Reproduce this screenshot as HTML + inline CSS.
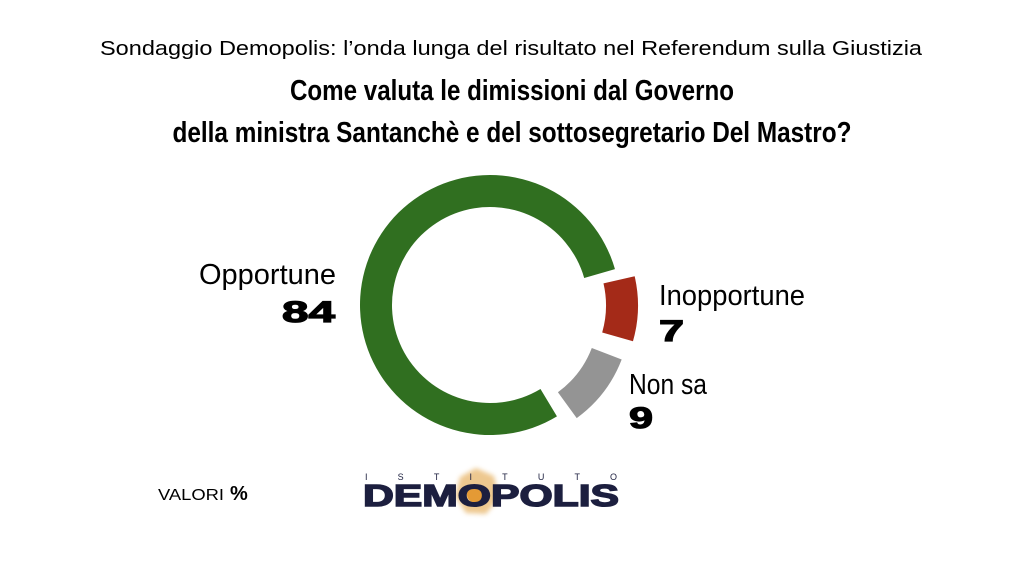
<!DOCTYPE html>
<html><head><meta charset="utf-8"><style>html,body{margin:0;padding:0;background:#fff}svg{display:block}</style></head>
<body>
<svg id="s" width="1024" height="576" viewBox="0 0 1024 576" xmlns="http://www.w3.org/2000/svg" font-family="Liberation Sans, sans-serif">
<rect width="1024" height="576" fill="#fff"/>
<text x="511" y="55" text-anchor="middle" font-size="20" textLength="822" lengthAdjust="spacingAndGlyphs" fill="#000">Sondaggio Demopolis: l’onda lunga del risultato nel Referendum sulla Giustizia</text>
<text x="512" y="100" text-anchor="middle" font-size="29" font-weight="bold" textLength="444" lengthAdjust="spacingAndGlyphs">Come valuta le dimissioni dal Governo</text>
<text x="512" y="142" text-anchor="middle" font-size="29" font-weight="bold" textLength="679" lengthAdjust="spacingAndGlyphs">della ministra Santanchè e del sottosegretario Del Mastro?</text>
<g id="donut"></g>
<text x="199" y="284" font-size="29" textLength="137" lengthAdjust="spacingAndGlyphs">Opportune</text>
<text x="282" y="322" font-size="30" font-weight="900" stroke="#000" stroke-width="1.2" textLength="53" lengthAdjust="spacingAndGlyphs">84</text>
<text x="659" y="305" font-size="29" textLength="146" lengthAdjust="spacingAndGlyphs">Inopportune</text>
<text x="659" y="341" font-size="30" font-weight="900" stroke="#000" stroke-width="1.2" textLength="25" lengthAdjust="spacingAndGlyphs">7</text>
<text x="629" y="394" font-size="29" textLength="78" lengthAdjust="spacingAndGlyphs">Non sa</text>
<text x="629" y="428" font-size="30" font-weight="900" stroke="#000" stroke-width="1.2" textLength="24" lengthAdjust="spacingAndGlyphs">9</text>
<text x="158" y="500" font-size="16" textLength="66" lengthAdjust="spacingAndGlyphs">VALORI</text>
<text x="230" y="500" font-size="20" font-weight="bold">%</text>
<defs><filter id="bl"><feGaussianBlur stdDeviation="2.5"/></filter></defs>
<polygon points="476,468 494,476 499,498 486,514 466,513 455,496 460,477" fill="#e8b66a" opacity="0.75" filter="url(#bl)"/>
<circle cx="476" cy="494" r="9" fill="#e49a35"/>
<text x="365" y="480" font-size="9" fill="#1c1f3f" textLength="252" lengthAdjust="spacing">ISTITUTO</text>
<text x="491" y="506" text-anchor="middle" font-size="31" font-weight="900" fill="#1c1f3f" stroke="#1c1f3f" stroke-width="1.5" textLength="256" lengthAdjust="spacingAndGlyphs">DEMOPOLIS</text>
</svg>
<script>
(function(){
var cx=490,cy=305,R=130,r=98,g=document.getElementById('donut');
function pt(a,rad,dx,dy){var t=a*Math.PI/180;return [cx+dx+rad*Math.sin(t),cy+dy-rad*Math.cos(t)];}
function seg(a0,a1,col,ex){var m=(a0+a1)/2*Math.PI/180,dx=ex*Math.sin(m),dy=-ex*Math.cos(m);
var L=(a1-a0)>180?1:0,p1=pt(a0,R,dx,dy),p2=pt(a1,R,dx,dy),p3=pt(a1,r,dx,dy),p4=pt(a0,r,dx,dy);
var d='M'+p1+' A'+R+' '+R+' 0 '+L+' 1 '+p2+' L'+p3+' A'+r+' '+r+' 0 '+L+' 0 '+p4+'Z';
var e=document.createElementNS('http://www.w3.org/2000/svg','path');e.setAttribute('d',d);e.setAttribute('fill',col);g.appendChild(e);}
seg(149,434,'#306f20',0);
seg(77,106,'#a42a18',18);
seg(111,144,'#949494',13);
})();
</script>
</body></html>
